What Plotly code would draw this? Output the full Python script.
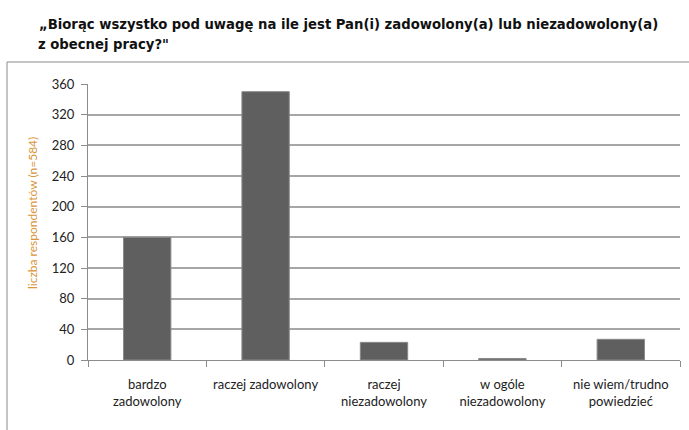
import plotly.graph_objects as go

categories = ["bardzo<br>zadowolony", "raczej zadowolony", "raczej<br>niezadowolony",
              "w ogóle<br>niezadowolony", "nie wiem/trudno<br>powiedzieć"]
values = [160, 350, 23, 2, 27]
y_ticks = [0, 40, 80, 120, 160, 200, 240, 280, 320, 360]

title_line1 = "„Biorąc wszystko pod uwagę na ile jest Pan(i) zadowolony(a) lub niezadowolony(a)"
title_line2 = "z obecnej pracy?\""
y_title = "liczba respondentów (n=584)"

W, H = 689, 430
L, R, T, B = 88, 9, 84, 70
pw, ph = W - L - R, H - T - B

def px_x(x):
    return (x - L) / pw

def px_y(y):
    return (H - B - y) / ph

fig = go.Figure()
fig.add_trace(go.Bar(
    x=categories, y=values,
    marker=dict(color="#5f5f5f", line=dict(color="#8a8a8a", width=1)),
    width=0.4,
))

title_font = dict(family="'DejaVu Sans Condensed', 'Liberation Sans Narrow', sans-serif",
                  size=14.7, color="#111111")

fig.update_layout(
    width=W, height=H,
    margin=dict(l=L, r=R, t=T, b=B),
    paper_bgcolor="white", plot_bgcolor="white",
    showlegend=False,
    font=dict(family="Lato, 'Open Sans', sans-serif", size=13, color="#222222"),
    xaxis=dict(
        type="category", showgrid=False, showline=True, linecolor="#8c8c8c", linewidth=1,
        ticks="outside", tickson="boundaries", ticklen=6, tickcolor="#8c8c8c",
        tickfont=dict(size=13, color="#222222"), tickangle=0,
        ticklabelstandoff=12,
    ),
    yaxis=dict(
        range=[0, 360], tickvals=y_ticks, showgrid=True, gridcolor="#a6a6a6", gridwidth=2,
        showline=True, linecolor="#8c8c8c", linewidth=1,
        ticks="outside", ticklen=6, tickcolor="#8c8c8c",
        tickfont=dict(size=13, color="#222222"),
        zeroline=False, ticklabelstandoff=4,
    ),
    shapes=[dict(
        type="rect", xref="paper", yref="paper",
        x0=px_x(7), x1=px_x(700), y0=px_y(450), y1=px_y(62),
        line=dict(color="#8a8a8a", width=1), fillcolor="rgba(0,0,0,0)", layer="below",
    )],
    annotations=[
        dict(text="<b>" + title_line1 + "</b>", xref="paper", yref="paper",
             x=px_x(37), y=px_y(24), xanchor="left", yanchor="middle", showarrow=False,
             font=title_font),
        dict(text="<b>" + title_line2 + "</b>", xref="paper", yref="paper",
             x=px_x(36), y=px_y(43), xanchor="left", yanchor="middle", showarrow=False,
             font=title_font),
        dict(text=y_title, xref="paper", yref="paper",
             x=px_x(32), y=px_y(213), xanchor="center", yanchor="middle", showarrow=False,
             textangle=-90,
             font=dict(family="Lato, 'Open Sans', sans-serif", size=12, color="#D9963A")),
    ],
)

fig.write_html("out.html")
